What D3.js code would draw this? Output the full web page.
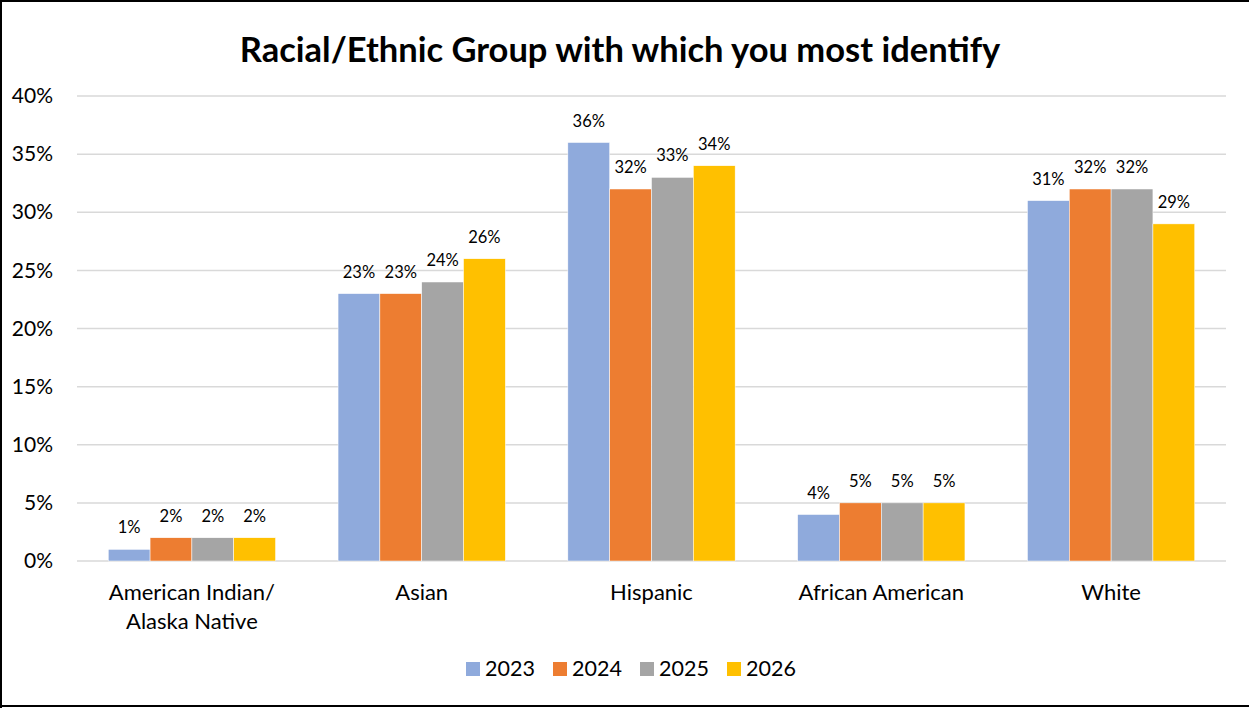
<!DOCTYPE html>
<html>
<head>
<meta charset="utf-8">
<script src="https://cdn.jsdelivr.net/npm/d3@7"></script>
<style>
  body { margin: 0; background: #fff; }
  text { font-family: Lato, "Open Sans", sans-serif; fill: #000; }
</style>
</head>
<body>
<svg></svg>
<script>
var categories = [["American Indian/", "Alaska Native"], ["Asian"], ["Hispanic"], ["African American"], ["White"]];
var years = ["2023", "2024", "2025", "2026"];
var v2023 = [1, 23, 36, 4, 31];
var v2024 = [2, 23, 32, 5, 32];
var v2025 = [2, 24, 33, 5, 32];
var v2026 = [2, 26, 34, 5, 29];
var yTicks = [0, 5, 10, 15, 20, 25, 30, 35, 40];
var colors = ["#8FAADC", "#ED7D31", "#A5A5A5", "#FFC000"];

var screen = {width: 1249, height: 708};
var margins = {top: 96, right: 23, bottom: 147, left: 77};

var svg = d3.select("svg").attr("width", screen.width).attr("height", screen.height);

// frame
svg.append("path")
  .attr("d", "M1,708 L1,1 L1260,1 M0,706 L1260,706")
  .attr("fill", "none").attr("stroke", "#000").attr("stroke-width", 2);

var width = screen.width - margins.left - margins.right;
var height = screen.height - margins.top - margins.bottom;

var g = svg.append("g").attr("transform", "translate(" + margins.left + "," + margins.top + ")");

var xScale = d3.scaleBand().domain(d3.range(categories.length)).range([0, width]).paddingInner(0).paddingOuter(0);
var inner = d3.scaleBand().domain(years).range([xScale.bandwidth() * 0.136, xScale.bandwidth() * 0.864]);
var yScale = d3.scaleLinear().domain([0, 40]).range([height, 0]);

// gridlines
g.selectAll(".grid").data(yTicks).enter().append("line")
  .attr("x1", 0).attr("x2", width)
  .attr("y1", function(d){ return yScale(d); })
  .attr("y2", function(d){ return yScale(d); })
  .attr("stroke", "#d9d9d9").attr("stroke-width", 1.5);

var yAxis = d3.axisLeft(yScale).tickValues(yTicks).tickFormat(function(d){ return d + "%"; }).tickSize(0).tickPadding(24);
g.append("g").attr("class", "yaxis").call(yAxis)
  .call(function(a){ a.select(".domain").remove(); })
  .selectAll("text").style("font-size", "21px").attr("font-family", null);

var series = [v2023, v2024, v2025, v2026];

var groups = g.selectAll(".series").data(series).enter().append("g")
  .attr("fill", function(d, i){ return colors[i]; });

groups.each(function(vals, si) {
  var grp = d3.select(this);
  grp.selectAll("rect").data(vals).enter().append("rect")
    .attr("x", function(d, i){ return xScale(i) + inner(years[si]); })
    .attr("y", function(d){ return yScale(d); })
    .attr("width", inner.bandwidth())
    .attr("height", function(d){ return height - yScale(d); })
    .attr("stroke", "#fff").attr("stroke-width", 0.5);
  grp.selectAll("text").data(vals).enter().append("text")
    .attr("x", function(d, i){ return xScale(i) + inner(years[si]) + inner.bandwidth() / 2; })
    .attr("y", function(d){ return yScale(d) - 16; })
    .attr("text-anchor", "middle")
    .style("font-size", "16.5px")
    .text(function(d){ return d + "%"; });
});

// category labels
var cats = g.selectAll(".cat").data(categories).enter().append("text")
  .attr("text-anchor", "middle")
  .attr("x", function(d, i){ return xScale(i) + xScale.bandwidth() / 2; })
  .attr("y", height + 39)
  .style("font-size", "22px");
cats.selectAll("tspan").data(function(d){ return d; }).enter().append("tspan")
  .attr("x", function(){ return d3.select(this.parentNode).attr("x"); })
  .attr("dy", function(d, i){ return i === 0 ? 0 : 29; })
  .text(function(d){ return d; });

// title
svg.append("text")
  .attr("x", 620).attr("y", 62)
  .attr("text-anchor", "middle")
  .style("font-size", "34.5px").style("font-weight", "bold")
  .text("Racial/Ethnic Group with which you most identify");

// legend
var legendX = [466, 553, 640, 727];
var legend = svg.selectAll(".legend").data(years).enter().append("g")
  .attr("transform", function(d, i){ return "translate(" + legendX[i] + ",662)"; });
legend.append("rect").attr("width", 14).attr("height", 14)
  .attr("fill", function(d, i){ return colors[i]; });
legend.append("text").attr("x", 19).attr("y", 14)
  .style("font-size", "21.5px")
  .text(function(d){ return d; });
</script>
</body>
</html>
